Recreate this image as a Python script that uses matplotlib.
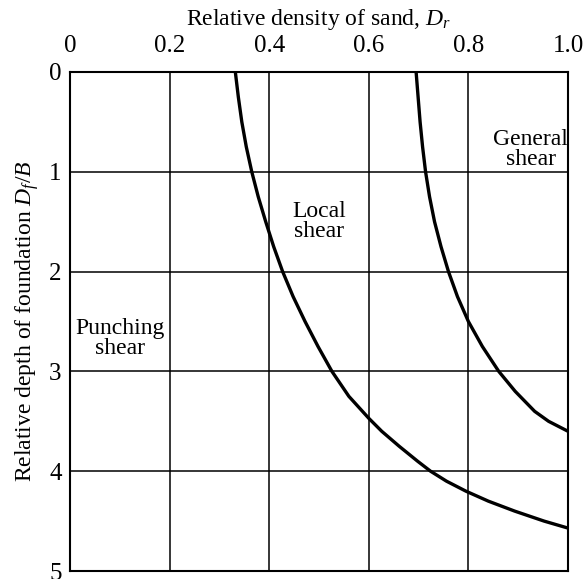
import numpy as np
import matplotlib
matplotlib.use("Agg")
import matplotlib.pyplot as plt

plt.rcParams["font.family"] = ["Liberation Serif", "DejaVu Serif"]
plt.rcParams["mathtext.fontset"] = "custom"
plt.rcParams["mathtext.rm"] = "Liberation Serif"
plt.rcParams["mathtext.it"] = "Liberation Serif:italic"

# boundary between punching and local shear (D_r, D_f/B)
local_dr = [0.332, 0.338, 0.345, 0.354, 0.365, 0.378, 0.393, 0.409, 0.427, 0.448, 0.472, 0.498,
            0.526, 0.560, 0.600, 0.626, 0.661, 0.698, 0.724, 0.756, 0.795, 0.840, 0.893, 0.952, 1.000]
local_depth = [0.0, 0.25, 0.5, 0.75, 1.0, 1.25, 1.5, 1.75, 2.0, 2.25, 2.5, 2.75,
               3.0, 3.25, 3.47, 3.6, 3.75, 3.9, 4.0, 4.1, 4.2, 4.3, 4.4, 4.5, 4.57]

# boundary between local and general shear
general_dr = [0.695, 0.699, 0.703, 0.708, 0.714, 0.722, 0.732, 0.745, 0.760, 0.778, 0.800,
              0.828, 0.861, 0.894, 0.933, 0.961, 1.000]
general_depth = [0.0, 0.25, 0.5, 0.75, 1.0, 1.25, 1.5, 1.75, 2.0, 2.25, 2.5,
                 2.75, 3.0, 3.2, 3.4, 3.5, 3.6]

x_ticks = [0, 0.2, 0.4, 0.6, 0.8, 1.0]
x_labels = ["0", "0.2", "0.4", "0.6", "0.8", "1.0"]
y_ticks = [0, 1, 2, 3, 4, 5]

zones = [("Punching\nshear", 0.10, 2.67), ("Local\nshear", 0.50, 1.50), ("General\nshear", 0.925, 0.78)]

fig = plt.figure(figsize=(5.87, 5.79), dpi=100)
ax = fig.add_axes([70 / 587, 8 / 579, 498 / 587, 499 / 579])

ax.plot(local_dr, local_depth, color="black", lw=2.4, solid_capstyle="butt", solid_joinstyle="round")
ax.plot(general_dr, general_depth, color="black", lw=2.4, solid_capstyle="butt", solid_joinstyle="round")

for label, x, y in zones:
    ax.text(x, y, label, ha="center", va="center", fontsize=17, linespacing=0.95)

ax.set_xlim(0, 1.0)
ax.set_ylim(5, 0)
ax.set_xticks(x_ticks)
ax.set_xticklabels(x_labels)
ax.set_yticks(y_ticks)
ax.xaxis.tick_top()
ax.xaxis.set_label_position("top")
ax.tick_params(axis="x", length=0, pad=11, labelsize=18)
ax.tick_params(axis="y", length=0, pad=6, labelsize=18)
ax.grid(True, color="black", lw=1.1)
for s in ax.spines.values():
    s.set_linewidth(1.5)

ax.set_xlabel("Relative density of sand, $D_r$", fontsize=17, labelpad=7)
ax.set_ylabel("Relative depth of foundation $D_f/B$", fontsize=17, labelpad=6)

fig.savefig("out.png", dpi=100)
